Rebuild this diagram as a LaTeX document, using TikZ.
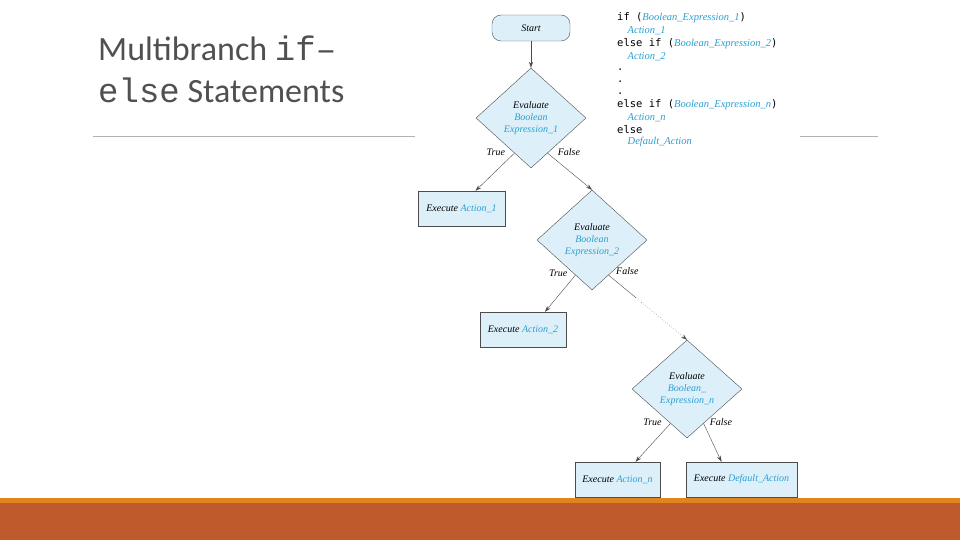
\documentclass[tikz,border=0pt]{standalone}
\usepackage{fontspec}
\setmainfont{Liberation Serif}
\newfontfamily\titlefont{Carlito}
\newfontfamily\codefont{DejaVu Sans Mono}
\newfontfamily\courfont{Liberation Mono}
\usetikzlibrary{shapes.geometric,calc,arrows.meta}
\definecolor{boxfill}{HTML}{DDF0FA}
\definecolor{exprblue}{HTML}{2A9FD0}
\definecolor{titlegray}{HTML}{505050}
\definecolor{barorange}{HTML}{E0841E}
\definecolor{barbrown}{HTML}{BE5A2B}
\tikzstyle{decision}=[diamond, draw=black!70, fill=boxfill, line width=0.4pt, inner sep=0pt, minimum width=110pt, minimum height=100pt, align=center, font=\fontsize{10}{12}\selectfont\itshape]
\tikzstyle{action}=[rectangle, draw=black!70, fill=boxfill, line width=0.4pt, minimum height=35pt, font=\fontsize{10}{12}\selectfont\itshape]
\tikzstyle{flow}=[draw=black!70, line width=0.4pt, -{Stealth[length=6pt,width=4pt]}]
\tikzstyle{branch}=[font=\fontsize{10}{12}\selectfont\itshape]
\tikzstyle{codeline}=[anchor=west, inner sep=0pt, font=\fontsize{10.5}{12}\codefont]
\newcommand{\ex}[1]{\textcolor{exprblue}{\fontspec{Liberation Serif}\itshape #1}}
\begin{document}
\begin{tikzpicture}[x=1pt, y=-1pt]
       \useasboundingbox (0,0) rectangle (960,540);
       % slide frame
       \fill[barbrown] (0,503) rectangle (960,540);
       \fill[barorange] (0,498) rectangle (960,503);
       \draw[black!30, line width=0.6pt] (93,136) -- (415,136);
       \draw[black!30, line width=0.6pt] (800,136) -- (878,136);
       \node (title) at (96,34) [anchor=north west, align=left, text=titlegray, inner sep=2pt, font=\fontsize{34}{42}\titlefont]
             {Multibranch {\courfont if–}\\{\courfont else} Statements};
       % flow chart
       \node (start) at (531,28) [rectangle, rounded corners=9pt, draw=black!70, fill=boxfill, minimum width=78pt, minimum height=26pt, font=\fontsize{10}{12}\selectfont\itshape] {Start};
       \node (eval1) at (531,118) [decision] {Evaluate\\\ex{Boolean}\\\ex{Expression\_1}};
       \node (act1) at (461.5,208.5) [action, minimum width=87pt] {Execute \ex{Action\_1}};
       \node (eval2) at (592,240) [decision] {Evaluate\\\ex{Boolean}\\\ex{Expression\_2}};
       \node (act2) at (523,329.5) [action, minimum width=86pt] {Execute \ex{Action\_2}};
       \node (evaln) at (687,389) [decision, minimum height=98pt] {Evaluate\\\ex{Boolean\_}\\\ex{Expression\_n}};
       \node (actn) at (617.5,479.5) [action, minimum width=85pt] {Execute \ex{Action\_n}};
       \node (actd) at (741.5,479.5) [action, minimum width=111pt] {Execute \ex{Default\_Action}};
       \draw[flow] (start) -- (eval1);
       \draw[flow] ($(eval1.south)!0.3!(eval1.west)$) -- ($(act1.north)+(14,0)$)
             node[branch, pos=0.15, above left] {True};
       \draw[flow] ($(eval1.south)!0.3!(eval1.east)$) -- (eval2.north)
             node[branch, pos=0.15, above right] {False};
       \draw[flow] ($(eval2.south)!0.3!(eval2.west)$) -- ($(act2.north)+(22,0)$)
             node[branch, pos=0.15, above left] {True};
       \draw[draw=black!70, line width=0.4pt] ($(eval2.south)!0.3!(eval2.east)$) coordinate (gap)
             -- ($(gap)!0.35!(evaln.north)$) coordinate (dots) node[branch, pos=0.15, above right] {False};
       \draw[flow, dotted] (dots) -- (evaln.north);
       \draw[flow] ($(evaln.south)!0.3!(evaln.west)$) -- ($(actn.north)+(18,0)$)
             node[branch, pos=0.15, above left] {True};
       \draw[flow] ($(evaln.south)!0.3!(evaln.east)$) -- ($(actd.north)-(20,0)$)
             node[branch, pos=0.15, above right] {False};
       % code listing
       \node (code1) at (617,18) [codeline] {if (\ex{Boolean\_Expression\_1})};
       \node (code2) at (617,31) [codeline] {\quad\ex{Action\_1}};
       \node (code3) at (617,44) [codeline] {else if (\ex{Boolean\_Expression\_2})};
       \node (code4) at (617,57) [codeline] {\quad\ex{Action\_2}};
       \node (code5) at (617,70) [codeline] {.};
       \node (code6) at (617,82) [codeline] {.};
       \node (code7) at (617,94) [codeline] {.};
       \node (code8) at (617,105) [codeline] {else if (\ex{Boolean\_Expression\_n})};
       \node (code9) at (617,118) [codeline] {\quad\ex{Action\_n}};
       \node (code10) at (617,130) [codeline] {else};
       \node (code11) at (617,142) [codeline] {\quad\ex{Default\_Action}};
    \end{tikzpicture}
\end{document}
